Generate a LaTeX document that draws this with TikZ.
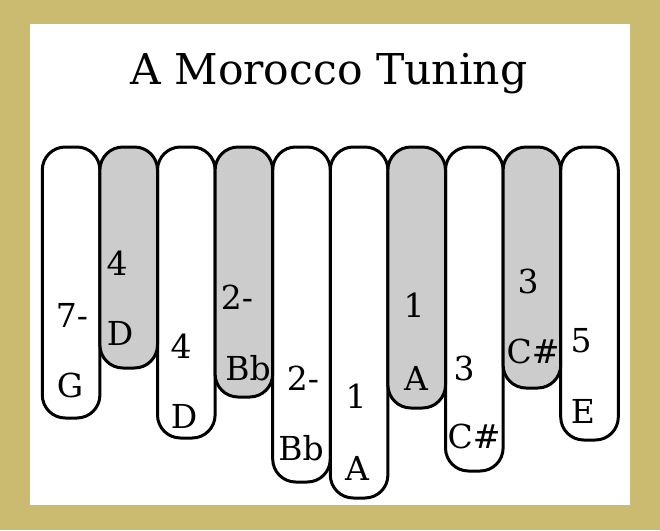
\documentclass[tikz,border=0pt]{standalone}
\usepackage{fontspec}
\setmainfont{DejaVu Serif}
\definecolor{gold}{HTML}{CBBB70}
\definecolor{keygrey}{HTML}{CCCCCC}
\begin{document}
\begin{tikzpicture}[x=1pt,y=-1pt,
  key/.style={draw=black, line width=3pt, rounded corners=23pt, fill=white,
    minimum width=57.6pt, anchor=north, inner sep=0pt, outer sep=0pt},
  greykey/.style={key, fill=keygrey},
  lbl/.style={font=\fontsize{33}{33}\selectfont, anchor=base, inner sep=0pt},
  ttl/.style={font=\fontsize{42.5}{42.5}\selectfont, anchor=base, inner sep=0pt}]
\fill[gold] (0,0) rectangle (660,530);
\fill[white] (30,24) rectangle (630,505);
\useasboundingbox (0,0) rectangle (660,530);
\node[ttl] (title) at (329,84) {A Morocco Tuning};
% keys (x centre, top 147, height)
\node[key,     minimum height=271pt] (k1)  at (71.1,147) {};
\node[key,     minimum height=291pt] (k3)  at (186.3,147) {};
\node[key,     minimum height=335pt] (k5)  at (301.5,147) {};
\node[key,     minimum height=351pt] (k6)  at (359.1,147) {};
\node[key,     minimum height=324pt] (k8)  at (474.3,147) {};
\node[key,     minimum height=293pt] (k10) at (589.5,147) {};
\node[greykey, minimum height=221pt] (k2)  at (128.7,147) {};
\node[greykey, minimum height=250pt] (k4)  at (243.9,147) {};
\node[greykey, minimum height=261pt] (k7)  at (416.7,147) {};
\node[greykey, minimum height=241pt] (k9)  at (531.9,147) {};
% labels
\node[lbl] (n1)  at (72,327) {7-};  \node[lbl] (t1)  at (70,397) {G};
\node[lbl] (n2)  at (117,275) {4};  \node[lbl] (t2)  at (120,345) {D};
\node[lbl] (n3)  at (181,358) {4};  \node[lbl] (t3)  at (184,428) {D};
\node[lbl] (n4)  at (237,309) {2-}; \node[lbl] (t4)  at (248,380) {Bb};
\node[lbl] (n5)  at (303,390) {2-}; \node[lbl] (t5)  at (301,460) {Bb};
\node[lbl] (n6)  at (356,408) {1};  \node[lbl] (t6)  at (357,480) {A};
\node[lbl] (n7)  at (414,317) {1};  \node[lbl] (t7)  at (416,390) {A};
\node[lbl] (n8)  at (464,380) {3};  \node[lbl] (t8)  at (474,448) {C\#};
\node[lbl] (n9)  at (528,293) {3};  \node[lbl] (t9)  at (533,363) {C\#};
\node[lbl] (n10) at (581,352) {5};  \node[lbl] (t10) at (583,423) {E};
\end{tikzpicture}
\end{document}
